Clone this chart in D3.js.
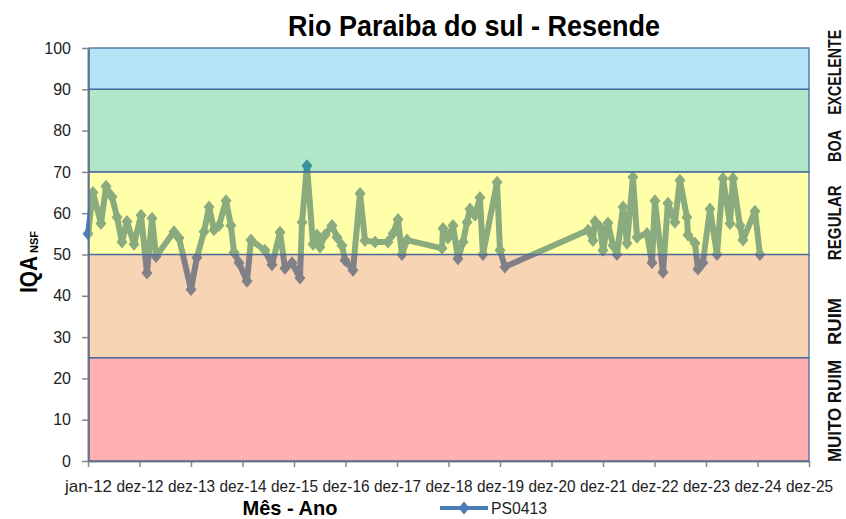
<!DOCTYPE html>
<html><head><meta charset="utf-8">
<script src="https://cdn.jsdelivr.net/npm/d3@7"></script>
<style>
body{margin:0;background:#fff;}
text{font-family:"Liberation Sans",Arial,sans-serif;}
</style></head>
<body><svg id="c" width="846" height="519"></svg>
<script>
const dates = ["2012-01-01","2012-02-05","2012-04-02","2012-05-08","2012-06-19","2012-07-25","2012-08-29","2012-10-03","2012-11-22","2013-01-11","2013-02-22","2013-03-30","2013-04-27","2013-09-01","2013-10-07","2013-12-31","2014-02-11","2014-04-02","2014-05-08","2014-06-12","2014-07-17","2014-09-05","2014-10-10","2014-11-01","2014-12-06","2015-02-01","2015-03-01","2015-06-08","2015-07-28","2015-09-23","2015-10-28","2015-12-17","2016-02-11","2016-02-26","2016-04-01","2016-05-14","2016-06-11","2016-07-02","2016-08-07","2016-09-25","2016-10-31","2016-12-05","2016-12-26","2017-02-21","2017-04-12","2017-05-17","2017-07-27","2017-10-27","2017-12-02","2018-01-06","2018-02-03","2018-03-11","2018-11-14","2018-11-21","2018-12-26","2019-01-31","2019-03-07","2019-04-12","2019-05-10","2019-05-31","2019-07-06","2019-08-10","2019-08-31","2019-12-09","2019-12-30","2020-02-03","2021-09-14","2021-10-19","2021-11-02","2021-12-08","2021-12-29","2022-02-02","2022-03-10","2022-04-07","2022-05-20","2022-06-17","2022-07-29","2022-08-27","2022-11-06","2022-12-11","2023-01-01","2023-02-27","2023-04-03","2023-05-23","2023-06-27","2023-08-16","2023-08-23","2023-10-12","2023-11-02","2023-12-07","2024-01-26","2024-03-16","2024-04-27","2024-06-16","2024-07-07","2024-08-26","2024-09-16","2024-12-10","2025-01-14"];
const values = [55,65,57.5,66.5,64,59,53,58,52.5,59.5,45.5,58.8,49.5,55.5,54,41.5,49.3,55.5,61.5,56,57,63,57,50.5,48,43.5,53.5,51,47.5,55.4,46.7,48,44.3,57.8,71.5,52.5,54.7,51.8,54.7,57,54.2,52.2,48.6,46.2,64.8,53.4,53,53,55.1,58.5,50,53.5,51.5,56.3,54,57,49,53,57.8,61,59.5,63.8,50,67.5,51,47,55.9,53.4,58,56.6,51,57.6,52.2,50,61.5,52.7,68.7,54.2,55.1,48,63,45.7,62.4,57.8,68,59,54.7,52.7,46.5,48,61,50,68.4,57.5,68.4,57,53.5,60.5,50];
const seriesName = "PS0413";
const yTicks = [0,10,20,30,40,50,60,70,80,90,100];
const xTickLabels = ["jan-12","dez-12","dez-13","dez-14","dez-15","dez-16","dez-17","dez-18","dez-19","dez-20","dez-21","dez-22","dez-23","dez-24","dez-25"];
const bandLower = [0,25,50,70,90];
const bandUpper = [25,50,70,90,100];
const bandColors = ["#ff1d1d","#e88429","#ffff0c","#23b862","#29b2e5"];
const bandNames = ["MUITO RUIM","RUIM","REGULAR","BOA","EXCELENTE"];
const bandLabelAt = [12.1,33.8,57.7,76.3,94.1];
const title = "Rio Paraiba do sul - Resende";

const svg = d3.select("#c");
const parse = d3.utcParse("%Y-%m-%d");
const start = parse(dates[0]);
const tickDates = xTickLabels.map((_, i) => d3.utcDay.offset(start, 365 * i));
const x = d3.scaleUtc().domain([start, tickDates[tickDates.length - 1]]).range([88, 809]);
const y = d3.scaleLinear().domain([0, 100]).range([461, 48]);
const data = dates.map((d, i) => ({d: parse(d), v: values[i]}));

// title
svg.append("text").attr("x", 474).attr("y", 36).attr("text-anchor", "middle")
  .attr("font-size", 30).attr("font-weight", "bold").attr("fill", "#000")
  .attr("textLength", 372).attr("lengthAdjust", "spacingAndGlyphs").text(title);

// y axis
const yAxis = svg.append("g").attr("transform", "translate(88,0)")
  .call(d3.axisLeft(y).tickValues(yTicks).tickSize(6).tickSizeOuter(0));
yAxis.select(".domain").attr("stroke", "#868686").attr("stroke-width", 2);
yAxis.selectAll(".tick line").attr("stroke", "#868686").attr("stroke-width", 1.5);
yAxis.selectAll(".tick text").attr("font-size", 16).attr("fill", "#222").attr("x", -17)
  .style("font-family", '"Liberation Sans",Arial,sans-serif');

// x axis
const xAxis = svg.append("g").attr("transform", "translate(0,461)")
  .call(d3.axisBottom(x).tickValues(tickDates).tickFormat((d, i) => xTickLabels[i]).tickSize(6).tickSizeOuter(0));
xAxis.select(".domain").attr("stroke", "#868686").attr("stroke-width", 2);
xAxis.selectAll(".tick line").attr("stroke", "#868686").attr("stroke-width", 1.5);
xAxis.selectAll(".tick text").attr("font-size", 17).attr("fill", "#222").attr("y", 19)
  .attr("textLength", 47).attr("lengthAdjust", "spacingAndGlyphs")
  .style("font-family", '"Liberation Sans",Arial,sans-serif');

// series (drawn under the translucent bands)
const lineColor = "#4a7ebb";
svg.append("path").datum(data)
  .attr("d", d3.line().x(d => x(d.d)).y(d => y(d.v)))
  .attr("fill", "none").attr("stroke", lineColor).attr("stroke-width", 6)
  .attr("stroke-linejoin", "round");
const diamond = "M0,-6.5L5.5,0L0,6.5L-5.5,0Z";
svg.append("g").selectAll("path").data(data).join("path")
  .attr("transform", d => `translate(${x(d.d)},${y(d.v)})`)
  .attr("d", diamond).attr("fill", lineColor);

// bands
const bands = svg.append("g");
bandLower.forEach((lo, i) => {
  bands.append("rect")
    .attr("x", x.range()[0] + 1).attr("width", x.range()[1] - x.range()[0] - 1)
    .attr("y", y(bandUpper[i])).attr("height", y(lo) - y(bandUpper[i]))
    .attr("fill", bandColors[i]).attr("fill-opacity", 0.35)
    .attr("stroke", "#4b6b9e").attr("stroke-width", 1.3);
});

// band labels
const bandLabelLen = [102,47,75,32,85];
bandNames.forEach((n, i) => {
  svg.append("text").attr("transform", `translate(841,${y(bandLabelAt[i])}) rotate(-90)`)
    .attr("text-anchor", "middle").attr("font-size", 19).attr("font-weight", "bold")
    .attr("textLength", bandLabelLen[i]).attr("lengthAdjust", "spacingAndGlyphs")
    .attr("fill", "#111").text(n);
});

// axis titles
const yt = svg.append("text").attr("transform", "translate(37,262) rotate(-90)")
  .attr("text-anchor", "middle").attr("font-weight", "bold").attr("fill", "#000");
yt.append("tspan").attr("font-size", 24).attr("textLength", 37).attr("lengthAdjust", "spacingAndGlyphs").text("IQA");
yt.append("tspan").attr("font-size", 11).attr("dx", 3).attr("dy", 1).text("NSF");
svg.append("text").attr("x", 290).attr("y", 515).attr("text-anchor", "middle")
  .attr("font-size", 21).attr("font-weight", "bold").attr("fill", "#000")
  .attr("textLength", 95).attr("lengthAdjust", "spacingAndGlyphs").text("Mês - Ano");

// legend
const lg = svg.append("g").attr("transform", "translate(440,508)");
lg.append("line").attr("x1", 0).attr("x2", 48).attr("stroke", lineColor).attr("stroke-width", 4);
lg.append("path").attr("transform", "translate(24,0)").attr("d", diamond).attr("fill", lineColor);
lg.append("text").attr("x", 51).attr("y", 6).attr("font-size", 16).attr("fill", "#222")
  .attr("textLength", 56).attr("lengthAdjust", "spacingAndGlyphs").text(seriesName);
</script></body></html>
